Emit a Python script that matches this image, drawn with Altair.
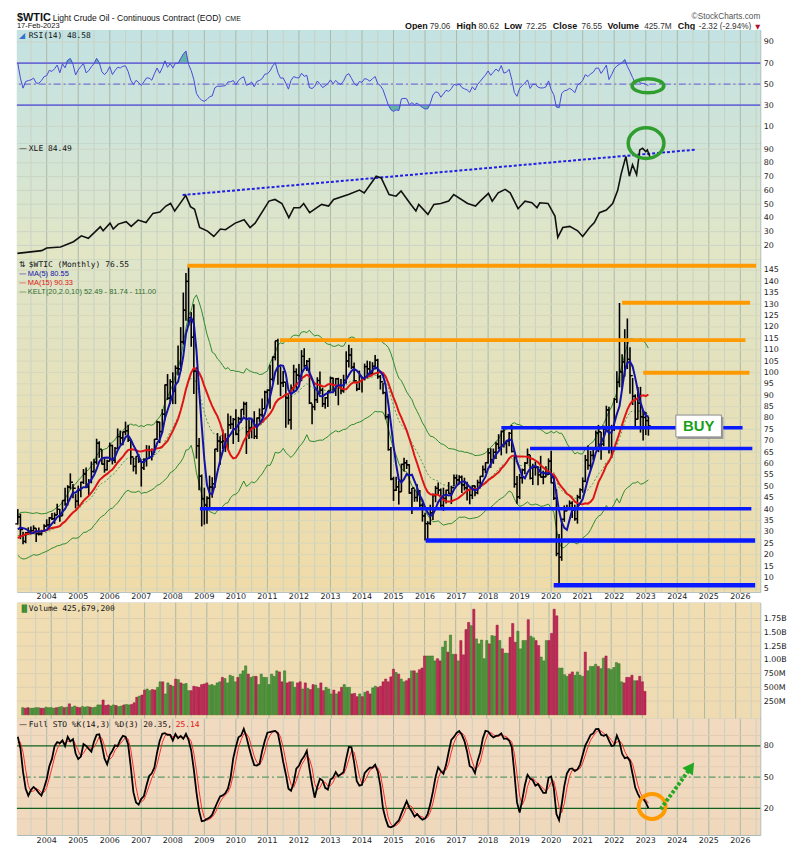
import altair as alt
import numpy as np
import pandas as pd

# ------------------------------------------------------------------ DATA
MONTH0 = "2001-01-01"   # first month of the price history (earlier months feed the indicators)
SHOW0 = "2003-02-01"    # first month drawn
closes = [
    28.66, 27.39, 26.29, 28.46, 28.37, 26.25, 26.35, 27.20, 23.43, 21.18, 19.44, 19.84,
    19.48, 21.74, 26.31, 27.29, 25.31, 26.86, 27.02, 28.98, 30.45, 27.22, 26.89, 31.20,
    33.51, 36.60, 31.04, 25.80, 29.56, 30.19, 30.54, 31.57, 29.20, 29.11, 30.41, 32.52,
    33.05, 36.16, 35.76, 37.38, 39.88, 37.05, 43.80, 42.12, 49.64, 51.76, 49.13, 43.45,
    48.20, 51.75, 55.40, 49.72, 51.97, 56.50, 60.57, 68.94, 66.24, 59.76, 57.32, 61.04,
    67.92, 61.41, 66.63, 71.88, 71.29, 73.93, 74.40, 70.26, 62.91, 58.73, 63.13, 61.05,
    58.14, 61.79, 65.87, 65.71, 64.01, 70.68, 78.21, 74.04, 81.66, 94.53, 88.71, 95.98,
    91.75, 101.84, 101.58, 113.46, 127.35, 140.00, 124.08, 115.46, 100.64, 67.81, 54.43, 44.60,
    41.68, 44.76, 49.66, 51.12, 66.31, 69.89, 69.45, 69.96, 70.61, 77.00, 77.28, 79.36,
    72.89, 79.66, 83.76, 86.15, 73.97, 75.63, 78.95, 71.92, 79.97, 81.43, 84.11, 91.38,
    92.19, 96.97, 106.72, 113.93, 102.70, 95.42, 95.70, 88.81, 79.20, 93.19, 100.36, 98.83,
    98.48, 107.07, 103.02, 104.87, 86.53, 84.96, 88.06, 96.47, 92.19, 86.24, 88.91, 91.82,
    97.49, 92.05, 97.23, 93.46, 91.97, 96.56, 105.03, 107.65, 102.33, 96.38, 92.72, 98.42,
    97.49, 102.59, 101.58, 99.74, 102.71, 105.37, 98.17, 95.96, 91.16, 80.54, 66.15, 53.27,
    48.24, 49.76, 47.60, 59.63, 60.30, 59.47, 47.12, 49.20, 45.09, 46.59, 41.65, 37.04,
    33.62, 33.75, 38.34, 45.92, 49.10, 48.33, 41.60, 44.70, 48.24, 46.86, 49.44, 53.72,
    52.81, 54.01, 50.60, 49.33, 48.32, 46.04, 50.17, 47.23, 51.67, 54.38, 57.40, 60.42,
    64.73, 61.64, 64.94, 68.57, 67.04, 74.15, 68.76, 69.80, 73.25, 65.31, 50.93, 45.41,
    53.79, 57.22, 60.14, 63.91, 53.50, 58.47, 58.58, 55.10, 54.07, 54.18, 55.17, 61.06,
    51.56, 44.76, 20.48, 18.84, 35.49, 39.27, 40.27, 42.61, 40.22, 35.79, 45.34, 48.52,
    52.20, 61.50, 59.16, 63.58, 66.32, 73.47, 73.95, 68.50, 75.03, 83.57, 66.18, 75.21,
    88.15, 95.72, 100.28, 104.69, 114.67, 105.76, 98.62, 89.55, 79.49, 86.53, 80.55, 80.26,
    78.87, 76.55,
]
highs = [
    32.19, 31.80, 28.50, 29.20, 29.90, 29.10, 27.80, 29.40, 30.10, 23.70, 22.90, 20.50,
    21.40, 22.00, 26.60, 27.40, 29.40, 27.20, 28.00, 29.50, 30.90, 30.50, 28.00, 32.70,
    35.00, 39.99, 38.00, 30.00, 29.90, 32.00, 32.40, 32.90, 31.60, 31.90, 30.90, 33.30,
    35.50, 36.50, 38.30, 38.50, 42.30, 40.00, 43.80, 49.40, 50.50, 55.70, 51.00, 46.60,
    50.30, 52.00, 57.60, 58.30, 53.20, 60.90, 62.10, 70.90, 69.80, 66.10, 62.80, 61.70,
    69.20, 68.30, 67.30, 75.40, 74.50, 74.00, 78.40, 77.00, 70.40, 62.60, 63.20, 64.20,
    61.00, 62.30, 68.10, 67.90, 66.60, 70.70, 78.80, 78.30, 83.90, 94.70, 99.30, 97.00,
    100.10, 103.10, 111.80, 119.90, 135.10, 143.70, 147.27, 126.50, 130.00, 102.30, 71.20, 55.20,
    49.40, 45.60, 54.70, 54.00, 66.50, 73.40, 72.00, 75.00, 73.30, 82.00, 81.00, 80.00,
    83.90, 80.50, 83.90, 87.20, 87.10, 79.20, 79.40, 83.00, 80.20, 84.20, 88.60, 92.00,
    92.60, 103.40, 107.00, 113.90, 114.80, 102.40, 100.60, 95.50, 90.50, 94.70, 103.40, 101.80,
    103.70, 109.80, 110.60, 105.50, 106.40, 86.30, 92.90, 97.90, 100.40, 93.30, 89.20, 91.90,
    98.20, 97.80, 97.50, 97.70, 97.10, 99.00, 109.30, 112.20, 110.70, 104.40, 95.30, 100.80,
    98.30, 103.90, 105.20, 104.90, 104.50, 107.70, 106.00, 98.90, 95.50, 91.60, 81.80, 67.30,
    54.20, 54.20, 52.50, 59.90, 62.60, 61.60, 59.70, 49.30, 48.70, 50.90, 48.40, 42.60,
    38.40, 34.70, 41.90, 46.80, 50.20, 51.70, 49.00, 49.40, 48.50, 51.90, 50.20, 55.20,
    55.20, 54.90, 54.70, 53.80, 52.00, 49.00, 50.40, 50.40, 52.90, 54.50, 59.10, 60.50,
    66.70, 66.70, 66.60, 69.60, 72.90, 74.50, 75.30, 70.40, 73.90, 76.90, 63.80, 54.50,
    55.40, 57.80, 60.70, 66.60, 63.80, 59.90, 60.90, 58.80, 63.40, 56.90, 58.80, 62.30,
    65.65, 54.70, 48.70, 29.10, 35.80, 41.60, 41.90, 43.80, 43.40, 41.90, 46.30, 49.20,
    53.90, 63.80, 67.98, 65.50, 67.00, 74.50, 76.98, 73.90, 76.70, 85.40, 84.90, 77.00,
    88.80, 100.50, 130.50, 108.00, 119.00, 123.70, 111.10, 97.60, 90.40, 93.60, 93.70, 83.30,
    82.70, 80.62,
]
lows = [
    26.50, 26.70, 25.70, 25.60, 26.60, 25.30, 24.50, 25.90, 21.70, 20.50, 17.50, 17.50,
    17.60, 19.20, 21.50, 23.60, 25.10, 24.40, 25.60, 26.60, 28.50, 26.70, 25.00, 26.50,
    30.50, 33.20, 26.80, 24.60, 25.00, 28.70, 29.60, 30.10, 25.60, 28.40, 28.40, 29.90,
    32.00, 32.30, 35.20, 33.50, 37.40, 34.40, 37.00, 41.50, 41.60, 48.60, 44.80, 40.30,
    41.20, 45.20, 51.00, 49.20, 46.20, 51.30, 56.00, 59.60, 62.50, 59.60, 56.00, 57.00,
    61.00, 59.60, 60.20, 66.80, 68.20, 68.00, 72.40, 69.50, 59.50, 56.50, 55.30, 60.30,
    49.90, 57.20, 58.70, 62.00, 61.30, 64.60, 70.30, 69.00, 73.60, 79.00, 87.90, 86.20,
    86.10, 86.10, 98.70, 100.60, 112.30, 122.70, 120.40, 111.30, 90.50, 62.20, 48.30, 32.40,
    33.20, 33.60, 40.00, 45.00, 49.30, 65.10, 59.50, 66.40, 65.10, 66.20, 75.20, 68.60,
    72.40, 69.50, 77.90, 81.10, 64.20, 70.80, 71.10, 70.80, 70.80, 78.30, 80.30, 84.30,
    85.10, 84.10, 96.00, 105.30, 94.60, 89.60, 93.60, 75.70, 77.10, 74.95, 91.00, 92.50,
    96.50, 96.20, 102.10, 100.70, 86.10, 77.30, 83.40, 86.60, 90.50, 84.80, 84.10, 84.80,
    91.60, 91.60, 89.70, 85.60, 90.40, 91.10, 95.10, 102.20, 101.50, 95.70, 91.80, 92.30,
    91.20, 96.50, 97.40, 98.60, 98.90, 101.30, 97.20, 92.50, 90.40, 79.40, 65.70, 52.70,
    43.60, 47.90, 42.00, 47.60, 56.50, 57.60, 46.70, 37.80, 43.20, 43.20, 40.00, 34.50,
    26.20, 26.10, 33.00, 35.20, 43.00, 46.40, 40.50, 39.20, 42.50, 46.60, 42.20, 49.90,
    50.70, 51.20, 47.10, 48.20, 43.80, 42.10, 44.40, 45.60, 46.50, 49.10, 54.00, 55.80,
    59.90, 58.10, 59.90, 62.00, 66.30, 63.60, 67.00, 64.40, 67.60, 64.90, 49.40, 42.40,
    44.40, 51.20, 55.30, 60.00, 53.00, 50.60, 54.70, 50.50, 53.90, 50.90, 54.00, 55.00,
    51.30, 44.00, 19.30, 6.50, 17.30, 34.40, 39.00, 40.30, 36.10, 34.90, 33.60, 44.30,
    47.20, 51.80, 57.30, 57.60, 61.60, 66.10, 65.00, 61.70, 67.60, 74.96, 64.40, 62.40,
    74.30, 86.60, 93.50, 92.90, 98.20, 101.50, 90.60, 85.70, 76.30, 79.30, 73.60, 70.10,
    72.50, 72.25,
]
# monthly volume in billions, Feb 2003 .. Feb 2023
volumes_b = [
    0.13, 0.12, 0.13, 0.12, 0.12, 0.13, 0.13, 0.12, 0.12, 0.14, 0.13,
    0.13, 0.12, 0.13, 0.14, 0.15, 0.13, 0.14, 0.20, 0.14, 0.16, 0.14, 0.13,
    0.15, 0.14, 0.15, 0.14, 0.13, 0.14, 0.18, 0.18, 0.27, 0.17, 0.18, 0.16,
    0.18, 0.17, 0.15, 0.16, 0.18, 0.19, 0.18, 0.19, 0.22, 0.32, 0.34, 0.36,
    0.45, 0.47, 0.44, 0.46, 0.45, 0.50, 0.60, 0.60, 0.38, 0.58, 0.54, 0.52,
    0.65, 0.64, 0.58, 0.56, 0.57, 0.44, 0.44, 0.52, 0.51, 0.50, 0.55, 0.56,
    0.58, 0.54, 0.55, 0.53, 0.58, 0.60, 0.68, 0.66, 0.58, 0.72, 0.70, 0.60,
    0.68, 0.74, 0.80, 0.89, 0.74, 0.68, 0.70, 0.70, 0.55, 0.74, 0.68, 0.68,
    0.55, 0.74, 0.70, 0.80, 0.78, 0.60, 0.80, 0.58, 0.60, 0.60, 0.50, 0.58,
    0.60, 0.47, 0.58, 0.48, 0.46, 0.55, 0.54, 0.48, 0.58, 0.44, 0.50, 0.47,
    0.38, 0.45, 0.38, 0.42, 0.50, 0.55, 0.50, 0.50, 0.38, 0.39, 0.33, 0.38,
    0.33, 0.41, 0.43, 0.38, 0.49, 0.52, 0.50, 0.52, 0.60, 0.65, 0.60, 0.69,
    0.83, 0.77, 0.74, 0.65, 0.60, 0.62, 0.66, 0.80, 0.80, 0.76, 0.82, 0.85,
    1.07, 1.07, 1.07, 1.07, 0.98, 1.02, 0.98, 1.23, 1.34, 1.14, 1.45, 1.10,
    1.10, 0.98, 1.35, 1.09, 1.55, 1.68, 1.62, 1.92, 1.38, 1.29, 1.36, 1.02,
    1.35, 1.29, 1.44, 1.43, 1.63, 1.35, 1.20, 1.12, 1.12, 1.41, 1.66, 1.32,
    1.52, 1.20, 1.35, 1.35, 1.73, 1.43, 1.40, 1.35, 1.26, 1.05, 0.98, 1.35,
    1.35, 1.48, 1.92, 1.80, 0.85, 0.85, 0.73, 0.70, 0.74, 0.78, 0.72, 0.78,
    0.72, 0.70, 1.14, 0.80, 0.88, 0.88, 0.92, 0.88, 0.84, 1.03, 1.07, 0.84,
    0.82, 0.86, 0.95, 0.93, 0.60, 0.58, 0.68, 0.68, 0.72, 0.62, 0.62, 0.70,
    0.60, 0.426,
]
# XLE (adjusted): decimal year, value
xle_t = [2003.07, 2003.84, 2004.00, 2004.44, 2004.85, 2005.10, 2005.32, 2005.70, 2005.79, 2006.01,
         2006.11, 2006.27, 2006.52, 2006.68, 2006.90, 2007.15, 2007.37, 2007.59, 2007.78, 2007.93,
         2008.06, 2008.25, 2008.41, 2008.56, 2008.69, 2008.85, 2009.10, 2009.30, 2009.51, 2009.67,
         2009.98, 2010.26, 2010.45, 2010.61, 2011.05, 2011.24, 2011.46, 2011.68, 2011.84, 2012.03,
         2012.15, 2012.34, 2012.72, 2012.94, 2013.10, 2013.57, 2013.92, 2014.07, 2014.45, 2014.61,
         2014.86, 2015.08, 2015.24, 2015.55, 2015.71, 2015.80, 2016.09, 2016.28, 2016.50, 2016.75,
         2016.91, 2017.35, 2017.60, 2017.75, 2018.01, 2018.13, 2018.32, 2018.54, 2018.70, 2018.95,
         2019.17, 2019.39, 2019.55, 2019.64, 2019.90, 2020.12, 2020.21, 2020.37, 2020.59, 2020.84,
         2021.00, 2021.22, 2021.37, 2021.53, 2021.75, 2021.95, 2022.11, 2022.22, 2022.37, 2022.48,
         2022.58, 2022.71, 2022.81, 2022.90, 2023.00, 2023.05, 2023.13]
xle_v = [14.2, 16.2, 18.1, 18.9, 22.7, 27.0, 25.2, 33.5, 30.6, 36.2,
         31.9, 35.5, 37.2, 33.8, 38.4, 36.6, 43.3, 44.3, 48.6, 50.5,
         45.0, 51.1, 56.4, 48.2, 46.3, 33.0, 30.4, 26.5, 31.9, 31.4,
         36.2, 38.6, 33.0, 36.2, 52.2, 53.4, 50.5, 40.2, 47.4, 47.4,
         50.5, 43.8, 49.8, 48.6, 53.4, 57.0, 60.2, 58.2, 70.3, 69.0,
         57.0, 55.8, 59.5, 49.8, 45.0, 49.8, 42.6, 49.8, 50.5, 52.2,
         57.0, 50.5, 48.6, 52.2, 57.8, 52.2, 58.2, 60.7, 58.2, 46.7,
         52.2, 51.0, 47.4, 51.0, 50.5, 41.3, 25.8, 33.0, 33.8, 30.6,
         26.5, 33.0, 36.6, 43.8, 45.7, 50.5, 60.0, 72.0, 84.7, 70.3,
         78.7, 71.4, 89.4, 90.6, 88.2, 89.4, 84.5]

# axis tick values
rsi_ticks = [10, 30, 50, 70, 90]
xle_ticks = [20, 30, 40, 50, 60, 70, 80, 90]
price_ticks = list(range(5, 150, 5))
vol_ticks = [0.25, 0.5, 0.75, 1.0, 1.25, 1.5, 1.75]
sto_ticks = [20, 50, 80]
year_labels = list(range(2004, 2027))

# support / resistance lines drawn on the price panel
lvl_price = [146.9, 130.6, 114.2, 99.9, 75.7, 66.6, 40.2, 26.2, 6.6]
lvl_from = [2008.47, 2022.25, 2011.40, 2022.92, 2018.42, 2019.33, 2008.86, 2016.02, 2020.08]
lvl_to = [2026.50, 2026.31, 2026.16, 2026.29, 2026.07, 2026.38, 2026.35, 2026.47, 2026.47]
lvl_kind = ["res", "res", "res", "res", "sup", "sup", "sup", "sup", "sup"]

# XLE trend line end points
xle_trend_t = [2008.31, 2024.58]
xle_trend_v = [56.6, 89.6]

# ------------------------------------------------------------------ LAYOUT
X0, X1 = 2003.056, 2026.631
W = 749
H_HDR, H_RSI, H_XLE, H_PX, H_STRIP, H_VOL, H_STO, H_BOT = 18, 114, 117, 335, 11, 117, 117, 12

one = pd.DataFrame({"k": [0]})
XS = alt.Scale(domain=[X0, X1], nice=False, zero=False)


def X(f="t"):
    return alt.X(f"{f}:Q", scale=XS, axis=None)


# ------------------------------------------------------------------ INDICATORS
dates = pd.date_range(MONTH0, periods=len(closes), freq="MS")
df = pd.DataFrame({"date": dates, "close": closes, "high": highs, "low": lows})
df["t"] = df["date"].dt.year + (df["date"].dt.month - 1) / 12.0
df["open"] = df["close"].shift(1).fillna(df["close"])
c = df["close"]
df["ma5"] = c.rolling(5).mean()
df["ma15"] = c.rolling(15).mean()
prev = c.shift(1)
tr = pd.concat([df["high"] - df["low"], (df["high"] - prev).abs(), (df["low"] - prev).abs()], axis=1).max(axis=1)
atr = tr.ewm(alpha=1 / 10, adjust=False).mean()
ema = c.ewm(span=20, adjust=False).mean()
df["kmid"] = ema
df["kup"] = ema + 2 * atr
df["klo"] = ema - 2 * atr
d = c.diff()
ag = d.clip(lower=0).fillna(0).ewm(alpha=1 / 14, adjust=False).mean()
al = (-d).clip(lower=0).fillna(0).ewm(alpha=1 / 14, adjust=False).mean()
df["rsi"] = 100 - 100 / (1 + ag / al)
df["rsi_hi"] = np.maximum(df["rsi"], 70)
df["rsi_lo"] = np.minimum(df["rsi"], 30)
ll = df["low"].rolling(14).min()
hh = df["high"].rolling(14).max()
fastk = 100 * (c - ll) / (hh - ll)
df["stok"] = fastk.rolling(3).mean()
df["stod"] = df["stok"].rolling(3).mean()

disp = df[df["date"] >= SHOW0].reset_index(drop=True)
disp["vol"] = volumes_b
disp["vcol"] = np.where(disp["close"] >= disp["open"], "up", "down")

xle = pd.DataFrame({"t": xle_t, "v": xle_v})
trend = pd.DataFrame({"t": xle_trend_t, "v": xle_trend_v})
levels = pd.DataFrame({"y": lvl_price, "t": lvl_from, "t2": lvl_to, "kind": lvl_kind})
levels["w"] = [4, 4, 4, 4, 3.5, 3.5, 3.5, 4.5, 4.5]
years = pd.DataFrame({"t": year_labels, "lab": [str(y) for y in year_labels]})
halfs = pd.DataFrame({"t": [y - 0.5 for y in year_labels] + [year_labels[-1] + 0.5]})


# ------------------------------------------------------------------ HELPERS
def bg(h, c1, c2):
    return alt.Chart(one).mark_rect(
        fill=alt.Gradient(gradient="linear", x1=0, x2=0, y1=0, y2=1,
                          stops=[alt.GradientStop(color=c1, offset=0),
                                 alt.GradientStop(color=c2, offset=1)])
    ).encode(x=alt.value(0), x2=alt.value(W), y=alt.value(0), y2=alt.value(h))


def vgrid():
    a = alt.Chart(halfs).mark_rule(color="#c9d2c4", strokeWidth=1).encode(x=X())
    b = alt.Chart(years).mark_rule(color="#aab8a8", strokeWidth=1).encode(x=X())
    return [a, b]


def yaxis(values, expr=None):
    kw = dict(orient="right", values=values, grid=False, ticks=False, domain=False,
              labelFontSize=8, labelFont="DejaVu Sans", labelColor="#222",
              labelPadding=3, title=None, labelOverlap=False)
    if expr:
        kw["labelExpr"] = expr
    return alt.Axis(**kw)


def hgrid(vals, sc, ax, color="#ccd4c4"):
    return alt.Chart(pd.DataFrame({"v": vals})).mark_rule(color=color, strokeWidth=1).encode(
        y=alt.Y("v:Q", scale=sc, axis=ax))


def txt(text, x, y, color="#111", size=8, font="DejaVu Sans Mono", weight="normal",
        align="left", baseline="middle"):
    return alt.Chart(one).mark_text(text=text, color=color, fontSize=size, font=font,
                                    fontWeight=weight, align=align, baseline=baseline).encode(
        x=alt.value(x), y=alt.value(y))


def ellipse(t, v, sc, ax, width, ratio, color, sw=3.5):
    path = f"M-1,0A1,{ratio},0,1,1,1,0A1,{ratio},0,1,1,-1,0Z"
    return alt.Chart(pd.DataFrame({"t": [t], "v": [v]})).mark_point(
        shape=path, size=width * width, filled=False, color=color, strokeWidth=sw, opacity=1
    ).encode(x=X(), y=alt.Y("v:Q", scale=sc, axis=ax))


PANEL_VIEW = alt.ViewBackground(stroke="#9fb0ac", strokeWidth=1)
NO_VIEW = alt.ViewBackground(stroke=None)

# ------------------------------------------------------------------ HEADER
hdr_bold = [("Open", 391), ("High", 443), ("Low", 491), ("Close", 540), ("Volume", 595), ("Chg", 666)]
hdr_vals = [("79.06", 416), ("80.62", 465), ("72.25", 513), ("76.55", 569), ("425.7M", 632),
            ("-2.32 (-2.94%)", 687)]
header_layers = [
    txt("$WTIC", 0, 8.5, size=11, font="Liberation Sans", weight="bold", baseline="alphabetic"),
    txt("Light Crude Oil - Continuous Contract (EOD)", 36, 8.5, size=8.6, font="Liberation Sans",
        baseline="alphabetic"),
    txt("CME", 210, 8.5, size=7, font="Liberation Sans", baseline="alphabetic"),
    txt("17-Feb-2023", 0, 16, size=7.5, font="Liberation Sans", baseline="alphabetic"),
    txt("\u00a9StockCharts.com", W, 7, size=8.3, font="Liberation Sans", color="#555",
        align="right", baseline="alphabetic"),
    txt("\u25bc", W, 16.5, size=6.5, font="DejaVu Sans", color="#b0102a", align="right",
        baseline="alphabetic"),
]
for s, x in hdr_bold:
    header_layers.append(txt(s, x, 16.5, size=9, font="Liberation Sans", weight="bold",
                             baseline="alphabetic"))
for s, x in hdr_vals:
    header_layers.append(txt(s, x, 16.5, size=8.3, font="Liberation Sans", color="#333",
                             baseline="alphabetic"))
header = alt.layer(*header_layers).properties(width=W, height=H_HDR, view=NO_VIEW)

# ------------------------------------------------------------------ RSI PANEL
rsi_sc = alt.Scale(domain=[-6, 101.3], nice=False, zero=False)
rsi_ax = yaxis(rsi_ticks)
RSI_LINE = "#4848d8"
rsi_panel = alt.layer(
    bg(H_RSI, "#c3e2e2", "#d0e4d8"),
    *vgrid(),
    hgrid(rsi_ticks, rsi_sc, rsi_ax),
    alt.Chart(disp).mark_area(color="#5aaea2", opacity=0.9).encode(
        x=X(), y=alt.Y("rsi_hi:Q", scale=rsi_sc, axis=rsi_ax), y2=alt.datum(70)),
    alt.Chart(disp).mark_area(color="#5aaea2", opacity=0.9).encode(
        x=X(), y=alt.Y("rsi_lo:Q", scale=rsi_sc, axis=rsi_ax), y2=alt.datum(30)),
    alt.Chart(pd.DataFrame({"v": [30, 70]})).mark_rule(color="#6c6cd6", strokeWidth=1.8).encode(
        y=alt.Y("v:Q", scale=rsi_sc, axis=rsi_ax)),
    alt.Chart(pd.DataFrame({"v": [50]})).mark_rule(color="#7474dc", strokeWidth=1.2,
                                                   strokeDash=[7, 3, 2, 3]).encode(
        y=alt.Y("v:Q", scale=rsi_sc, axis=rsi_ax)),
    alt.Chart(disp).mark_line(color=RSI_LINE, strokeWidth=1).encode(
        x=X(), y=alt.Y("rsi:Q", scale=rsi_sc, axis=rsi_ax)),
    txt("\u25e2", 2, 6, size=8, font="DejaVu Sans", color="#3a6fd0"),
    txt("RSI(14) 48.58", 12, 6, size=8),
    ellipse(2023.07, 48.4, rsi_sc, rsi_ax, 32, 0.44, "#2f9e2f"),
).properties(width=W, height=H_RSI, view=PANEL_VIEW)

# ------------------------------------------------------------------ XLE PANEL
xle_sc = alt.Scale(domain=[9.9, 94.3], nice=False, zero=False)
xle_ax = yaxis(xle_ticks)
xle_panel = alt.layer(
    bg(H_XLE, "#d0e4d8", "#e3e6c4"),
    *vgrid(),
    hgrid(xle_ticks, xle_sc, xle_ax),
    alt.Chart(trend).mark_line(color="#1e1ee8", strokeWidth=2, strokeDash=[3, 2]).encode(
        x=X(), y=alt.Y("v:Q", scale=xle_sc, axis=xle_ax)),
    alt.Chart(xle).mark_line(color="#111", strokeWidth=1.6).encode(
        x=X(), y=alt.Y("v:Q", scale=xle_sc, axis=xle_ax)),
    txt("\u2014", 2, 6, size=8, font="DejaVu Sans", color="#111"),
    txt("XLE 84.49", 12, 6, size=8),
    ellipse(2023.01, 94.3, xle_sc, xle_ax, 36, 0.86, "#2f9e2f"),
).properties(width=W, height=H_XLE, view=PANEL_VIEW)

# ------------------------------------------------------------------ PRICE PANEL
px_sc = alt.Scale(domain=[3.7, 149.7], nice=False, zero=False)
px_ax = yaxis(price_ticks)


def pline(field, color, width=1.0, dash=None):
    kw = dict(color=color, strokeWidth=width, clip=True)
    if dash:
        kw["strokeDash"] = dash
    return alt.Chart(disp).mark_line(**kw).encode(x=X(), y=alt.Y(f"{field}:Q", scale=px_sc, axis=px_ax))


price_panel = alt.layer(
    bg(H_PX, "#dee5c9", "#f0dba8"),
    *vgrid(),
    hgrid(price_ticks, px_sc, px_ax, color="#d6d8bc"),
    pline("kup", "#2c8a2c", 1),
    pline("klo", "#2c8a2c", 1),
    pline("kmid", "#4f9a4f", 1, [2, 2]),
    alt.Chart(disp).mark_rule(color="#000", strokeWidth=1.6).encode(
        x=X(), y=alt.Y("low:Q", scale=px_sc, axis=px_ax), y2="high:Q"),
    alt.Chart(disp).mark_rule(color="#000", strokeWidth=1.3, xOffset=-2.5, x2Offset=0).encode(
        x=X(), x2="t:Q", y=alt.Y("open:Q", scale=px_sc, axis=px_ax)),
    alt.Chart(disp).mark_rule(color="#000", strokeWidth=1.3, xOffset=0, x2Offset=2.5).encode(
        x=X(), x2="t:Q", y=alt.Y("close:Q", scale=px_sc, axis=px_ax)),
    pline("ma15", "#e01414", 2),
    pline("ma5", "#1212a8", 2),
    alt.Chart(levels).mark_rule().encode(
        x=X(), x2="t2:Q", y=alt.Y("y:Q", scale=px_sc, axis=px_ax),
        color=alt.Color("kind:N", scale=alt.Scale(domain=["res", "sup"], range=["#ff9a00", "#0a1aff"]),
                        legend=None),
        strokeWidth=alt.StrokeWidth("w:Q", scale=None)),
    # BUY tag
    alt.Chart(pd.DataFrame({"t": [2023.955], "t2": [2025.40], "y": [81.3], "y2": [71.7]})).mark_rect(
        color="#9a9a9a", xOffset=2, x2Offset=2, yOffset=2, y2Offset=2).encode(
        x=X(), x2="t2:Q", y=alt.Y("y:Q", scale=px_sc, axis=px_ax), y2="y2:Q"),
    alt.Chart(pd.DataFrame({"t": [2023.955], "t2": [2025.40], "y": [81.3], "y2": [71.7]})).mark_rect(
        fill="#ffffff", stroke="#8a8a8a", strokeWidth=1).encode(
        x=X(), x2="t2:Q", y=alt.Y("y:Q", scale=px_sc, axis=px_ax), y2="y2:Q"),
    alt.Chart(pd.DataFrame({"t": [2024.68], "y": [76.5], "s": ["BUY"]})).mark_text(
        font="Liberation Sans", fontSize=15, fontWeight="bold", color="#18a018").encode(
        x=X(), y=alt.Y("y:Q", scale=px_sc, axis=px_ax), text="s:N"),
    txt("\u21c5", 2, 6, size=8, font="DejaVu Sans", color="#111"),
    txt("$WTIC (Monthly) 76.55", 12, 6, size=8),
    txt("\u2014", 2, 15, size=7.5, font="DejaVu Sans", color="#1212a8"),
    txt("MA(5) 80.55", 11, 15, size=7.5, font="Liberation Sans", color="#1212a8"),
    txt("\u2014", 2, 24, size=7.5, font="DejaVu Sans", color="#e01414"),
    txt("MA(15) 90.33", 11, 24, size=7.5, font="Liberation Sans", color="#e01414"),
    txt("\u2014", 2, 33, size=7.5, font="DejaVu Sans", color="#2c7a2c"),
    txt("KELT(20,2.0,10) 52.49 - 81.74 - 111.00", 11, 33, size=7.5, font="Liberation Sans",
        color="#2c6e2c"),
).properties(width=W, height=H_PX, view=PANEL_VIEW)

# ------------------------------------------------------------------ YEAR STRIPS


def strip(h, y):
    return alt.Chart(years).mark_text(font="DejaVu Sans", fontSize=8, color="#222").encode(
        x=X(), y=alt.value(y), text="lab:N").properties(width=W, height=h, view=NO_VIEW)


# ------------------------------------------------------------------ VOLUME PANEL
vol_sc = alt.Scale(domain=[-0.072, 2.039], nice=False, zero=False)
vol_ax = yaxis(vol_ticks, "datum.value < 1 ? format(datum.value * 1000, 'd') + 'M' : format(datum.value, '.2f') + 'B'")
vol_panel = alt.layer(
    bg(H_VOL, "#f0ddb2", "#efdbb2"),
    *vgrid(),
    hgrid(vol_ticks, vol_sc, vol_ax, color="#ddd0b0"),
    alt.Chart(disp).mark_bar(size=2.2, strokeWidth=0.5).encode(
        x=X(), y=alt.Y("vol:Q", scale=vol_sc, axis=vol_ax), y2=alt.value(H_VOL),
        fill=alt.Color("vcol:N", scale=alt.Scale(domain=["up", "down"], range=["#4f9a3c", "#c8285a"]),
                       legend=None),
        stroke=alt.Stroke("vcol:N", scale=alt.Scale(domain=["up", "down"], range=["#2e6a22", "#8a1238"]),
                          legend=None)),
    txt("\u2590\u258c", 2, 6, size=7, font="DejaVu Sans", color="#3d8a30"),
    txt("Volume 425,679,200", 12, 6, size=8),
).properties(width=W, height=H_VOL, view=PANEL_VIEW)

# ------------------------------------------------------------------ STOCHASTIC PANEL
sto_sc = alt.Scale(domain=[-5.4, 106], nice=False, zero=False)
sto_ax = yaxis(sto_ticks)
sto_panel = alt.layer(
    bg(H_STO, "#f1dabf", "#f0d8bd"),
    *vgrid(),
    hgrid([10, 30, 40, 60, 70, 90], sto_sc, sto_ax, color="#e4cdb4"),
    alt.Chart(pd.DataFrame({"v": [20, 80]})).mark_rule(color="#11601c", strokeWidth=1.2).encode(
        y=alt.Y("v:Q", scale=sto_sc, axis=sto_ax)),
    alt.Chart(pd.DataFrame({"v": [50]})).mark_rule(color="#5e9a6a", strokeWidth=1.2,
                                                   strokeDash=[7, 3, 2, 3]).encode(
        y=alt.Y("v:Q", scale=sto_sc, axis=sto_ax)),
    alt.Chart(disp).mark_line(color="#ff2a2a", strokeWidth=1).encode(
        x=X(), y=alt.Y("stod:Q", scale=sto_sc, axis=sto_ax)),
    alt.Chart(disp).mark_line(color="#000", strokeWidth=1.8).encode(
        x=X(), y=alt.Y("stok:Q", scale=sto_sc, axis=sto_ax)),
    ellipse(2023.20, 21.9, sto_sc, sto_ax, 27, 0.93, "#ff9a00", 4),
    alt.Chart(pd.DataFrame({"t": [2023.47, 2024.37], "v": [19.3, 56.8]})).mark_line(
        color="#22a822", strokeWidth=4, strokeDash=[3, 2]).encode(
        x=X(), y=alt.Y("v:Q", scale=sto_sc, axis=sto_ax)),
    alt.Chart(pd.DataFrame({"t": [2024.43], "v": [59.6]})).mark_point(
        shape="triangle-up", filled=True, size=170, angle=36, color="#22a822", opacity=1).encode(
        x=X(), y=alt.Y("v:Q", scale=sto_sc, axis=sto_ax)),
    txt("\u2014", 2, 6, size=8, font="DejaVu Sans", color="#111"),
    txt("Full STO %K(14,3) %D(3) 20.35,", 12, 6, size=8),
    txt("25.14", 160, 6, size=8, color="#e01414"),
).properties(width=W, height=H_STO, view=PANEL_VIEW)

chart = alt.vconcat(
    header, rsi_panel, xle_panel, price_panel, strip(H_STRIP, 5.5), vol_panel, sto_panel,
    strip(H_BOT, 6), spacing=0, bounds="flush",
).properties(padding={"left": 5, "top": 0, "right": 5, "bottom": 0}
).configure_view(stroke=None)

chart.save("out.html", embed_options={"renderer": "svg", "actions": False})
